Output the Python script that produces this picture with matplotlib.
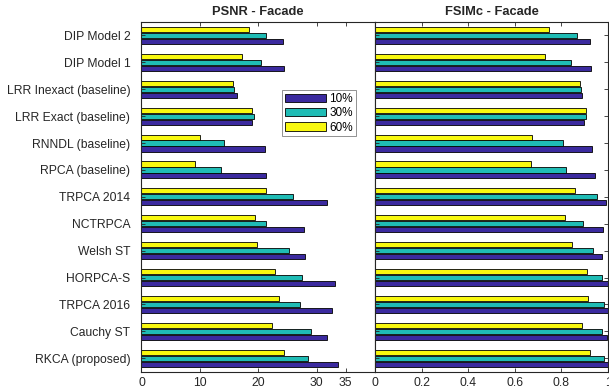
import numpy as np
import matplotlib.pyplot as plt

plt.rcParams['font.family'] = ['Liberation Sans', 'DejaVu Sans']

# methods, top to bottom
methods = ['DIP Model 2', 'DIP Model 1', 'LRR Inexact (baseline)', 'LRR Exact (baseline)',
           'RNNDL (baseline)', 'RPCA (baseline)', 'TRPCA 2014', 'NCTRPCA', 'Welsh ST',
           'HORPCA-S', 'TRPCA 2016', 'Cauchy ST', 'RKCA (proposed)']
levels = ['10%', '30%', '60%']

# PSNR per noise level
psnr_10 = [24.2, 24.5, 16.4, 19.0, 21.1, 21.3, 31.8, 27.8, 28.0, 33.1, 32.7, 31.7, 33.7]
psnr_30 = [21.4, 20.4, 15.8, 19.2, 14.2, 13.7, 26.0, 21.3, 25.3, 27.5, 27.1, 29.0, 28.6]
psnr_60 = [18.5, 17.3, 15.7, 19.0, 10.0, 9.2, 21.4, 19.4, 19.8, 22.9, 23.6, 22.3, 24.4]

# FSIMc per noise level
fsim_10 = [0.923, 0.925, 0.887, 0.897, 0.931, 0.946, 0.993, 0.977, 0.976, 0.999, 0.999, 0.994, 0.999]
fsim_30 = [0.865, 0.842, 0.883, 0.904, 0.808, 0.818, 0.953, 0.891, 0.934, 0.976, 0.981, 0.976, 0.981]
fsim_60 = [0.745, 0.729, 0.880, 0.904, 0.672, 0.668, 0.857, 0.817, 0.845, 0.910, 0.915, 0.887, 0.921]

colors = ['#3b2a9f', '#1fbcb5', '#f8f80f']
txt = '#262626'

fig = plt.figure(figsize=(6.09, 3.91), dpi=100)
ax1 = fig.add_axes([0.2323, 0.0494, 0.3834, 0.8943])
ax2 = fig.add_axes([0.6158, 0.0494, 0.3826, 0.8943])

y = np.arange(1, len(methods) + 1)
offs = [0.22, 0.0, -0.22]
h = 0.19


def draw(ax, series):
    for s, o, c, lab in zip(series, offs, colors, levels):
        ax.barh(y + o, s, height=h, color=c, edgecolor='black', linewidth=0.6, label=lab)
    ax.set_ylim(13.5, 0.5)
    ax.set_yticks(y)
    for sp in ax.spines.values():
        sp.set_color(txt)
        sp.set_linewidth(0.8)
    ax.tick_params(direction='in', length=3, width=0.6, colors=txt, labelsize=8.7, top=True)


draw(ax1, [psnr_10, psnr_30, psnr_60])
ax1.set_xlim(0, 40)
ax1.set_xticks([0, 10, 20, 30, 35])
ax1.set_yticklabels(methods)
ax1.tick_params(axis='y', right=False, pad=8)
ax1.set_title('PSNR - Facade', fontsize=9.3, fontweight='bold', color=txt, pad=5)
leg = ax1.legend(loc='upper left', bbox_to_anchor=(0.600, 0.806), borderaxespad=0,
                 fontsize=8.5, handlelength=3.5, handleheight=0.7, labelspacing=0.2,
                 handletextpad=0.3, borderpad=0.25, fancybox=False, framealpha=1)
leg.get_frame().set_edgecolor('#808080')
leg.get_frame().set_linewidth(0.6)

draw(ax2, [fsim_10, fsim_30, fsim_60])
ax2.set_xlim(0, 1)
ax2.set_xticks([0, 0.2, 0.4, 0.6, 0.8, 1])
ax2.set_xticklabels(['0', '0.2', '0.4', '0.6', '0.8', '1'])
ax2.tick_params(axis='y', right=True, labelleft=False)
ax2.set_title('FSIMc - Facade', fontsize=9.3, fontweight='bold', color=txt, pad=5)

fig.savefig('out.png', dpi=100)
